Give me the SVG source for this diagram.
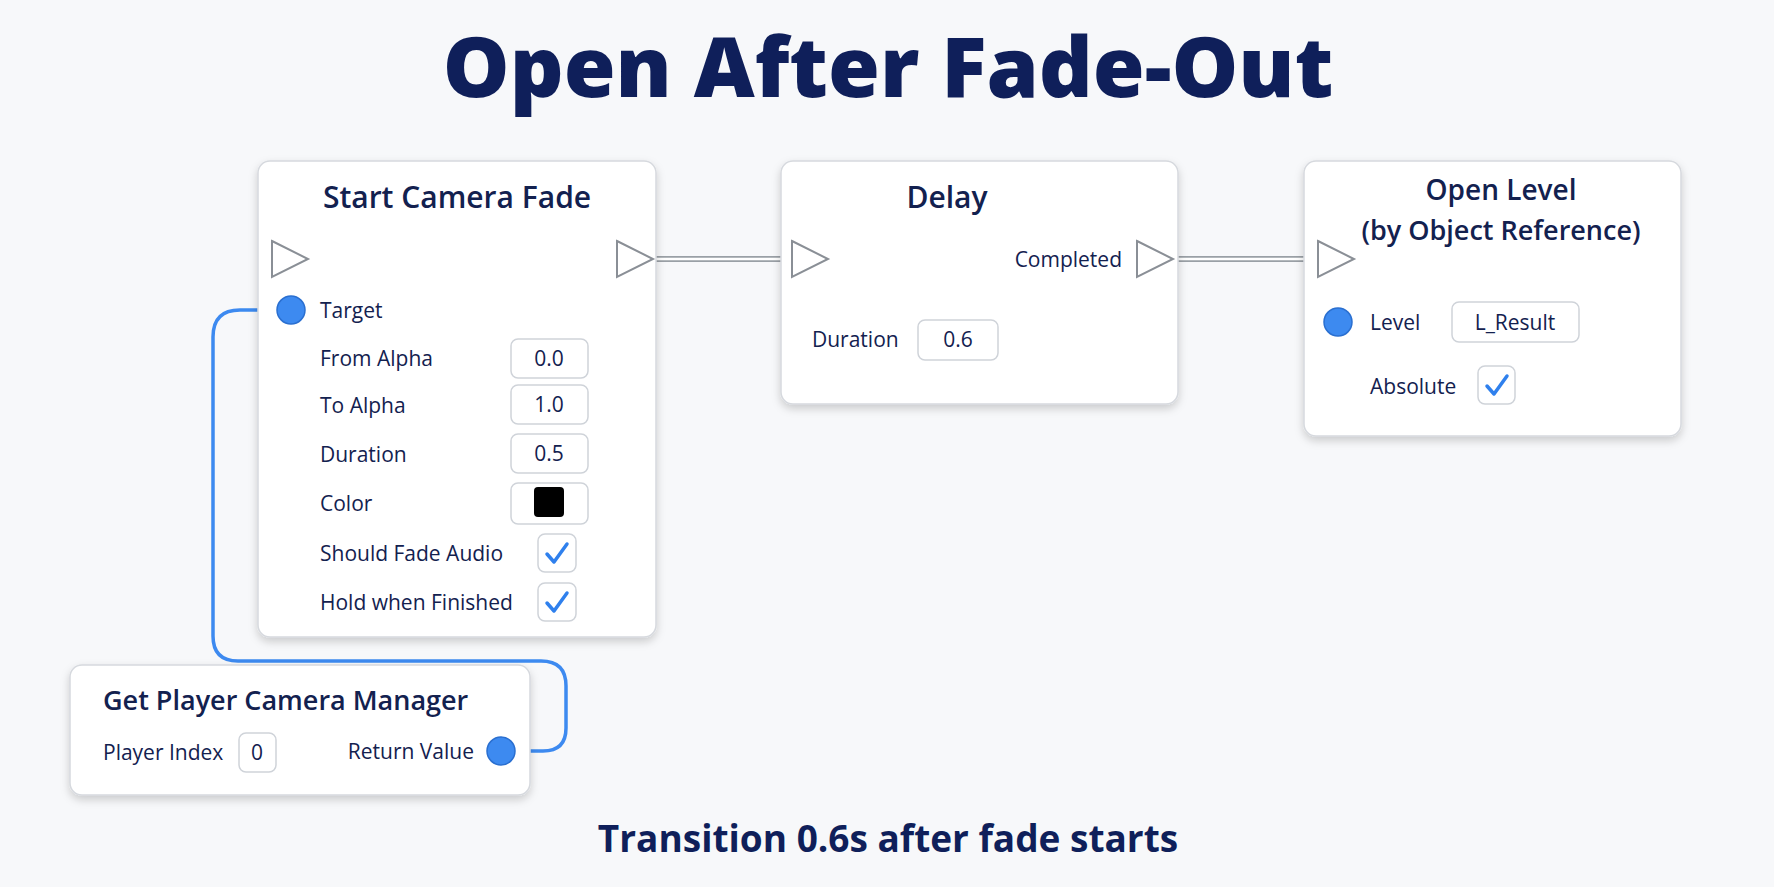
<svg xmlns="http://www.w3.org/2000/svg" width="1774" height="887" viewBox="0 0 1774 887">
<defs>
<filter id="sh" x="-10%" y="-10%" width="120%" height="130%"><feDropShadow dx="0" dy="4" stdDeviation="4" flood-color="#000" flood-opacity="0.18"/></filter>
<style>
text{font-family:"Open Sans","Liberation Sans",sans-serif;fill:#13214f}
.node{fill:#fff;stroke:#d6d9de;stroke-width:1.5;filter:url(#sh)}
.title{font-size:30px;font-weight:600;text-anchor:middle}
.lbl{font-size:21px}
.box{fill:#fff;stroke:#cfd3d9;stroke-width:1.5}
.val{font-size:21px;text-anchor:middle}
.exec{fill:#fff;stroke:#8a8f96;stroke-width:2}
.pin{fill:#3d8af0;stroke:#2a6fd0;stroke-width:1.5}
.chk{fill:none;stroke:#2f80ed;stroke-width:3.5;stroke-linecap:round;stroke-linejoin:round}
</style>
</defs>
<rect width="1774" height="887" fill="#f7f8fa"/>
<text x="888" y="97" font-size="84" font-weight="800" text-anchor="middle" style="fill:#0f1f5a">Open After Fade-Out</text>
<g id="connectors">
<path d="M653 259H792M1173 259H1318" stroke="#9aa0a6" stroke-width="6" fill="none"/>
<path d="M653 259H792M1173 259H1318" stroke="#fff" stroke-width="2.5" fill="none"/>
<path d="M291 310H240Q213 310 213 337V636Q213 661 238 661H541Q566 661 566 686V728Q566 751 543 751H501" stroke="#3d8af0" stroke-width="3.5" fill="none"/>
</g>
<g id="start-camera-fade">
<rect class="node" x="258" y="161" width="398" height="476" rx="12"/>
<text class="title" x="457" y="208">Start Camera Fade</text>
<path class="exec" d="M272 241L308 259L272 277Z"/>
<path class="exec" d="M617 241L653 259L617 277Z"/>
<circle class="pin" cx="291" cy="310" r="14"/>
<text class="lbl" x="320" y="318">Target</text>
<text class="lbl" x="320" y="366">From Alpha</text>
<rect class="box" x="511" y="339" width="77" height="39" rx="7"/><text class="val" x="549" y="366">0.0</text>
<text class="lbl" x="320" y="413">To Alpha</text>
<rect class="box" x="511" y="385" width="77" height="39" rx="7"/><text class="val" x="549" y="412">1.0</text>
<text class="lbl" x="320" y="462">Duration</text>
<rect class="box" x="511" y="434" width="77" height="39" rx="7"/><text class="val" x="549" y="461">0.5</text>
<text class="lbl" x="320" y="511">Color</text>
<rect class="box" x="511" y="483" width="77" height="41" rx="7"/><rect x="534" y="487" width="30" height="30" rx="4" fill="#000"/>
<text class="lbl" x="320" y="561">Should Fade Audio</text>
<rect class="box" x="538" y="534" width="38" height="38" rx="7"/><path class="chk" d="M547 554l7 8l13-18"/>
<text class="lbl" x="320" y="610">Hold when Finished</text>
<rect class="box" x="538" y="583" width="38" height="38" rx="7"/><path class="chk" d="M547 603l7 8l13-18"/>
</g>
<g id="delay">
<rect class="node" x="781" y="161" width="397" height="243" rx="12"/>
<text class="title" x="947" y="208">Delay</text>
<path class="exec" d="M792 241L828 259L792 277Z"/>
<text class="lbl" x="1122" y="267" text-anchor="end">Completed</text>
<path class="exec" d="M1137 241L1173 259L1137 277Z"/>
<text class="lbl" x="812" y="347">Duration</text>
<rect class="box" x="918" y="320" width="80" height="40" rx="7"/><text class="val" x="958" y="347">0.6</text>
</g>
<g id="open-level">
<rect class="node" x="1304" y="161" width="377" height="275" rx="12"/>
<text class="title" x="1501" y="200" style="font-size:28px">Open Level</text>
<text class="title" x="1501" y="240" style="font-size:27px">(by Object Reference)</text>
<path class="exec" d="M1318 241L1354 259L1318 277Z"/>
<circle class="pin" cx="1338" cy="322" r="14"/>
<text class="lbl" x="1370" y="330">Level</text>
<rect class="box" x="1452" y="302" width="127" height="40" rx="7"/><text class="val" x="1515" y="330">L_Result</text>
<text class="lbl" x="1370" y="394">Absolute</text>
<rect class="box" x="1478" y="366" width="37" height="38" rx="7"/><path class="chk" d="M1487 386l7 8l13-18"/>
</g>
<g id="get-player-camera-manager">
<rect class="node" x="70" y="665" width="460" height="130" rx="12"/>
<text x="103" y="710" font-size="27" font-weight="600">Get Player Camera Manager</text>
<text class="lbl" x="103" y="760">Player Index</text>
<rect class="box" x="239" y="733" width="37" height="39" rx="7"/><text class="val" x="257" y="760">0</text>
<text class="lbl" x="474" y="759" text-anchor="end">Return Value</text>
<circle class="pin" cx="501" cy="751" r="14"/>
</g>
<text x="888" y="852" font-size="37" font-weight="700" text-anchor="middle" style="fill:#0f1f5a">Transition 0.6s after fade starts</text>
</svg>
